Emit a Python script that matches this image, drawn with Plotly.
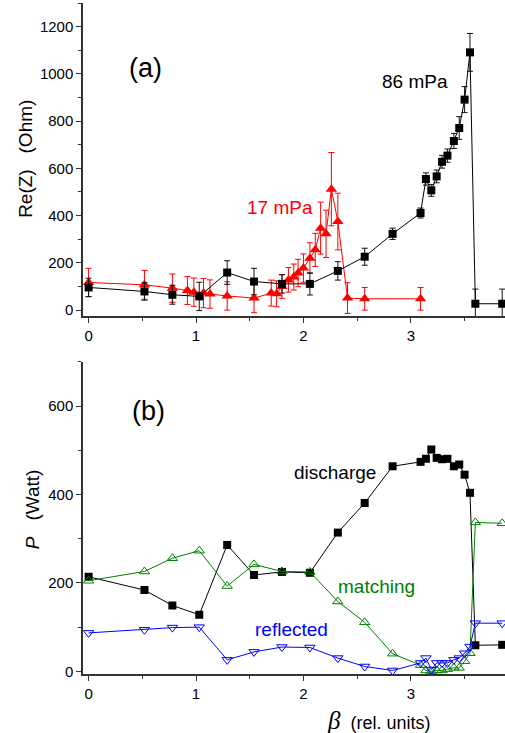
import plotly.graph_objects as go

# ---- panel (a): real part of impedance vs beta ----
beta_86 = [0, 0.52, 0.78, 1.03, 1.29, 1.54, 1.80, 2.06, 2.32, 2.57, 2.83,
           3.09, 3.14, 3.19, 3.24, 3.29, 3.34, 3.40, 3.45, 3.50, 3.55, 3.60, 3.85]
rez_86 = [96, 79, 65, 58, 159, 121, 111, 111, 166, 226, 323,
          411, 555, 507, 566, 628, 654, 716, 771, 891, 1091, 27, 27]
rez_86_err = [39, 37, 40, 60, 50, 56, 39, 47, 39, 36, 24,
              21, 26, 25, 27, 27, 28, 32, 48, 55, 80, 62, 62]

beta_17 = [0, 0.52, 0.78, 0.92, 0.98, 1.07, 1.13, 1.29, 1.54, 1.70, 1.75, 1.80,
           1.86, 1.91, 1.95, 2.00, 2.06, 2.11, 2.16, 2.21, 2.26, 2.32, 2.41, 2.57, 3.09]
rez_17 = [117, 107, 93, 83, 76, 72, 68, 60, 51, 72, 69, 100,
          128, 140, 157, 178, 220, 255, 347, 323, 512, 375, 51, 48, 48]
rez_17_err = [60, 61, 60, 59, 60, 62, 60, 60, 62, 55, 55, 50,
              52, 55, 58, 60, 65, 70, 110, 100, 155, 120, 65, 48, 48]

# ---- panel (b): power balance vs beta ----
beta_p = beta_86
p_discharge = [214, 184, 149, 128, 286, 218, 225, 223, 314, 381, 464,
               474, 481, 502, 483, 480, 481, 464, 468, 445, 404, 59, 60]
p_matching = [205, 226, 256, 273, 193, 242, 226, 225, 158, 111, 40,
              14, 2, 0, 2, 2, 5, 8, 8, 23, 41, 337, 335]
p_reflected = [87, 94, 99, 100, 26, 44, 55, 54, 30, 11, 2,
               19, 30, 4, 19, 19, 19, 26, 30, 41, 56, 109, 109]

x_ticks = [0, 1, 2, 3]
ya_ticks = [0, 200, 400, 600, 800, 1000, 1200]
yb_ticks = [0, 200, 400, 600]

FONT = "Arial, 'Liberation Sans', sans-serif"
AX = "#333333"
NB = "\u00a0"

fig = go.Figure()

fig.add_trace(go.Scatter(
    x=beta_17, y=rez_17, mode="lines+markers",
    line=dict(color="#ff0000", width=1),
    marker=dict(symbol="triangle-up", size=10, color="#ff0000"),
    error_y=dict(type="data", array=rez_17_err, color="#ff0000", thickness=1, width=3),
    xaxis="x", yaxis="y", showlegend=False))

fig.add_trace(go.Scatter(
    x=beta_86, y=rez_86, mode="lines+markers",
    line=dict(color="#000000", width=1),
    marker=dict(symbol="square", size=8, color="#000000"),
    error_y=dict(type="data", array=rez_86_err, color="#111111", thickness=1, width=3),
    xaxis="x", yaxis="y", showlegend=False))

fig.add_trace(go.Scatter(
    x=beta_p, y=p_discharge, mode="lines+markers",
    line=dict(color="#000000", width=1),
    marker=dict(symbol="square", size=8, color="#000000"),
    xaxis="x2", yaxis="y2", showlegend=False))

fig.add_trace(go.Scatter(
    x=beta_p, y=p_matching, mode="lines+markers",
    line=dict(color="#008000", width=1),
    marker=dict(symbol="triangle-up-open", size=9, color="#008000", line=dict(width=1)),
    xaxis="x2", yaxis="y2", showlegend=False))

fig.add_trace(go.Scatter(
    x=beta_p, y=p_reflected, mode="lines+markers",
    line=dict(color="#0000ff", width=1),
    marker=dict(symbol="triangle-down-open", size=9, color="#0000ff", line=dict(width=1)),
    xaxis="x2", yaxis="y2", showlegend=False))

xcommon = dict(
    range=[-0.052, 3.876], tickvals=x_ticks, ticks="outside", ticklen=5,
    tickwidth=1, tickcolor=AX, showline=True, linecolor=AX, linewidth=1.5,
    showgrid=False, zeroline=False, tickfont=dict(family=FONT, size=15, color="#000"),
    minor=dict(dtick=0.5, tick0=0, ticks="outside", ticklen=3, tickcolor=AX, showgrid=False),
)
ycommon = dict(
    ticks="outside", ticklen=5, tickwidth=1, tickcolor=AX, showline=True,
    linecolor=AX, linewidth=1.5, showgrid=False, zeroline=False,
    tickfont=dict(family=FONT, size=15, color="#000"),
)

fig.update_layout(
    width=505, height=733,
    margin=dict(l=83, r=0, t=3, b=59),
    paper_bgcolor="white", plot_bgcolor="white",
    font=dict(family=FONT, color="#000"),
    xaxis=dict(**xcommon, anchor="y"),
    yaxis=dict(**ycommon, domain=[0.5335, 1.0], range=[-25, 1300], tickvals=ya_ticks,
               minor=dict(dtick=100, tick0=0, ticks="outside", ticklen=3, tickcolor=AX, showgrid=False)),
    xaxis2=dict(**xcommon, anchor="y2"),
    yaxis2=dict(**ycommon, domain=[0.0, 0.465], range=[-6, 700], tickvals=yb_ticks,
                minor=dict(dtick=100, tick0=0, ticks="outside", ticklen=3, tickcolor=AX, showgrid=False)),
)

def label(text, x, y, size, color="#000", xref="x", yref="y", angle=0):
    fig.add_annotation(text=text, x=x, y=y, xref=xref, yref=yref, showarrow=False,
                       textangle=angle, xanchor="center", yanchor="middle",
                       font=dict(family=FONT, size=size, color=color))

label("(a)", 0.532, 1024, 27)
label("86 mPa", 3.04, 968, 19)
label("17 mPa", 1.783, 433, 19, color="#ff0000")
label("(b)", 0.56, 588, 27, xref="x2", yref="y2")
label("discharge", 2.29, 450, 19, xref="x2", yref="y2")
label("matching", 2.68, 191, 19, color="#008000", xref="x2", yref="y2")
label("reflected", 1.89, 94, 19, color="#0000ff", xref="x2", yref="y2")

label("Re(Z)" + NB * 3 + "(Ohm)", -0.137, 0.768, 19, xref="paper", yref="paper", angle=-90)
label("<i>P</i>" + NB * 3 + "(Watt)", -0.118, 0.246, 19, xref="paper", yref="paper", angle=-90)
label("<span style=\"font-family:'Liberation Serif', serif; font-size:25px\"><i>β</i></span>"
      + NB * 2 + "(rel. units)", 0.701, -0.0686, 18, xref="paper", yref="paper")

fig.write_html("out.html")
